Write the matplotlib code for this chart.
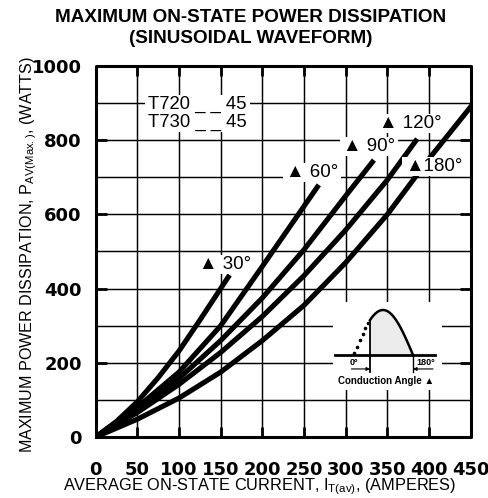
import numpy as np
import matplotlib
matplotlib.use("Agg")
from matplotlib import pyplot as plt
from matplotlib.patches import Rectangle
from matplotlib.collections import LineCollection

plt.rcParams['font.family'] = ['Liberation Sans', 'DejaVu Sans']
plt.rcParams['mathtext.fontset'] = 'custom'
plt.rcParams['mathtext.rm'] = 'Liberation Sans'

# curves: average current (A) vs max power (W)
amps_30 = [0, 25, 50, 75, 100, 125, 159]
watts_30 = [0, 42, 95, 160, 232, 315, 431]

amps_60 = [0, 50, 100, 150, 200, 266]
watts_60 = [0, 80, 175, 300, 460, 674]

amps_90 = [0, 50, 100, 150, 200, 250, 300, 332]
watts_90 = [0, 72, 158, 260, 375, 505, 650, 741]

amps_120 = [0, 50, 100, 150, 200, 250, 300, 350, 384]
watts_120 = [0, 66, 142, 228, 325, 435, 558, 693, 798]

amps_180 = [0, 50, 100, 150, 200, 250, 300, 350, 400, 450]
watts_180 = [0, 48, 105, 175, 260, 355, 470, 600, 750, 890]

curves = [(amps_30, watts_30), (amps_60, watts_60), (amps_90, watts_90),
          (amps_120, watts_120), (amps_180, watts_180)]

# label text and where it sits (A, W)
labels = ["▲ 30°", "▲ 60°", "▲ 90°", "▲ 120°", "▲180°"]
label_pos = [(124, 464), (228, 712), (297, 782), (340, 845), (371, 728)]

x_ticks = [0, 50, 100, 150, 200, 250, 300, 350, 400, 450]
y_ticks = [0, 200, 400, 600, 800, 1000]
y_grid = [100, 200, 300, 400, 500, 600, 700, 800, 900]
x_max, y_max = 450, 1000

fig = plt.figure(figsize=(4.89, 4.98), dpi=100)
ax = fig.add_axes([95.7 / 489, 1 - 437 / 498, 375 / 489, 371 / 498])

for a, w in curves:
    ax.plot(a, w, color='black', lw=3.7, zorder=3)

# grid, drawn over the curves (black on black) but under the label patches
grid_segs = [[(x, 0), (x, y_max)] for x in x_ticks[1:-1]]
grid_segs += [[(0, y), (x_max, y)] for y in y_grid]
ax.add_collection(LineCollection(grid_segs, colors='black', lw=0.9, zorder=3.5))
for x in x_ticks[1:-1]:
    ax.plot([x, x], [0, y_max], color='black', lw=0.9, zorder=3.5)
for y in y_grid:
    ax.plot([0, x_max], [y, y], color='black', lw=0.9, zorder=3.5)

# inward tick stubs
stub_segs = []
for x in x_ticks[1:-1]:
    stub_segs += [[(x, 0), (x, 26)], [(x, y_max - 26), (x, y_max)]]
for y in y_ticks[1:-1]:
    stub_segs += [[(0, y), (13, y)], [(x_max - 13, y), (x_max, y)]]
ax.add_collection(LineCollection(stub_segs, colors='black', lw=2.0, zorder=3.5))

# heavy frame
ax.plot([0, x_max, x_max, 0, 0], [0, 0, y_max, y_max, 0], color='black',
        lw=2.2, zorder=7, clip_on=False)

texts = []
for txt, (x, y) in zip(labels, label_pos):
    texts.append(ax.text(x, y, txt, fontsize=13.5, ha='left', va='center', zorder=6))
texts.append(ax.text(63, 873, "T720 _ _ 45\nT730 _ _ 45", fontsize=13.3,
                     ha='left', va='center', linespacing=1.05, zorder=6))

ax.set_xlim(0, x_max)
ax.set_ylim(0, y_max)
ax.set_xticks(x_ticks, [str(v) for v in x_ticks], fontsize=13,
              fontweight='bold', fontfamily='DejaVu Sans')
ax.set_yticks(y_ticks, [str(v) for v in y_ticks], fontsize=13,
              fontweight='bold', fontfamily='DejaVu Sans')
ax.tick_params(length=0, pad=10)
ax.tick_params(axis='x', pad=17)

fig.text(251 / 489, 1 - 17 / 498, "MAXIMUM ON-STATE POWER DISSIPATION",
         fontsize=13.6, fontweight='bold', ha='center', va='center')
fig.text(251 / 489, 1 - 38 / 498, "(SINUSOIDAL WAVEFORM)",
         fontsize=13.6, fontweight='bold', ha='center', va='center')
fig.text(260 / 489, 1 - 487 / 498,
         r"AVERAGE ON-STATE CURRENT, $\mathregular{I_{T(av)}}$, (AMPERES)",
         fontsize=11.8, ha='center', va='center')
fig.text(29 / 489, 1 - 255 / 498,
         r"MAXIMUM POWER DISSIPATION, $\mathregular{P_{AV(Max.)}}$, (WATTS)",
         fontsize=11.6, ha='center', va='center', rotation=90)

# white patches behind the labels, sized from the rendered text
fig.canvas.draw()
renderer = fig.canvas.get_renderer()
inv = ax.transData.inverted()
for t in texts:
    bb = t.get_window_extent(renderer)
    (x0, y0), (x1, y1) = inv.transform([(bb.x0 - 3, bb.y0 - 1), (bb.x1 + 3, bb.y1 + 1)])
    ax.add_patch(Rectangle((x0, y0), x1 - x0, y1 - y0, facecolor='white',
                           edgecolor='none', zorder=4))

# conduction angle sketch, drawn in the corner of the main axes
def sk_x(deg):
    return 308.8 + np.asarray(deg) * 0.4

def sk_y(amp):
    return 221 + np.asarray(amp) * 121.3

ax.add_patch(Rectangle((sk_x(-60), sk_y(-0.78)), sk_x(267) - sk_x(-60),
                       sk_y(1.18) - sk_y(-0.78), facecolor='white',
                       edgecolor='none', zorder=4))
alpha = 51
deg_on = np.linspace(alpha, 180, 60)
deg_off = np.linspace(2, 46, 6)
sine_on = np.sin(np.radians(deg_on))
ax.fill_between(sk_x(deg_on), sk_y(0), sk_y(sine_on), facecolor='#ebebeb',
                edgecolor='none', zorder=5)
ax.plot(sk_x(deg_on), sk_y(sine_on), color='black', lw=1.8, zorder=6)
ax.plot(sk_x(deg_off), sk_y(np.sin(np.radians(deg_off))), 'o', color='black',
        ms=1.6, zorder=6)
ax.plot(sk_x([alpha, alpha]), sk_y([-0.38, np.sin(np.radians(alpha))]),
        color='black', lw=1.3, zorder=6)
ax.plot(sk_x([180, 180]), sk_y([-0.38, 0]), color='black', lw=1.0, zorder=6)
ax.plot(sk_x([-54, 246]), sk_y([0, 0]), color='black', lw=2.0, zorder=6)
ax.annotate('', xy=(sk_x(alpha), sk_y(-0.31)), xytext=(sk_x(-5), sk_y(-0.31)),
            arrowprops=dict(arrowstyle='-|>', lw=0.8, color='black',
                            mutation_scale=5, shrinkA=0, shrinkB=0), zorder=6)
ax.annotate('', xy=(sk_x(180), sk_y(-0.31)), xytext=(sk_x(240), sk_y(-0.31)),
            arrowprops=dict(arrowstyle='-|>', lw=0.8, color='black',
                            mutation_scale=5, shrinkA=0, shrinkB=0), zorder=6)
ax.text(sk_x(3), sk_y(-0.17), "0°", fontsize=6.5, fontweight='bold',
        ha='center', va='center', zorder=6)
ax.text(sk_x(219), sk_y(-0.17), "180°", fontsize=6.5, fontweight='bold',
        ha='center', va='center', zorder=6)
ax.text(sk_x(99), sk_y(-0.57), "Conduction Angle ▲", fontsize=7,
        fontweight='bold', ha='center', va='center', zorder=6)

fig.savefig("out.png", dpi=100)
